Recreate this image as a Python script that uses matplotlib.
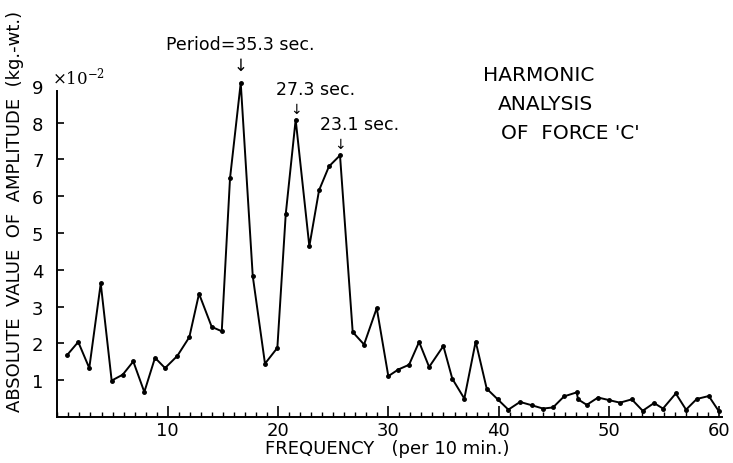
import matplotlib.pyplot as plt
from matplotlib.ticker import MultipleLocator

plt.rcParams['mathtext.fontset'] = 'dejavuserif'

# Harmonic analysis of force 'C' (values x 10^-2 kg.-wt.)
# frequencies (points sit slightly left of the integers near the peaks)
freq = [0.90, 1.89, 2.89, 3.93, 4.92, 5.92, 6.88, 7.88, 8.85, 9.76,
        10.87, 11.96, 12.84, 13.99, 14.90, 15.65, 16.62, 17.71, 18.82, 19.94,
        20.70, 21.60, 22.84, 23.72, 24.62, 25.62, 26.77, 27.80, 28.95, 30.00,
        30.90, 31.88, 32.79, 33.70, 34.99, 35.80, 36.89, 37.92, 38.92, 39.92,
        40.88, 41.94, 43.00, 44.02, 44.93, 45.93, 47.08, 47.20, 47.99, 49.01,
        50.00, 51.00, 52.07, 53.06, 54.09, 54.90, 56.06, 56.99, 57.96, 59.05,
        59.98]
amp = [1.69, 2.04, 1.33, 3.63, 0.99, 1.15, 1.51, 0.68, 1.61, 1.33,
       1.66, 2.17, 3.35, 2.45, 2.33, 6.49, 9.08, 3.83, 1.45, 1.88,
       5.51, 8.08, 4.64, 6.16, 6.81, 7.11, 2.31, 1.97, 2.96, 1.11,
       1.29, 1.42, 2.04, 1.36, 1.93, 1.04, 0.50, 2.05, 0.77, 0.48,
       0.20, 0.41, 0.32, 0.23, 0.26, 0.56, 0.67, 0.48, 0.33, 0.53,
       0.46, 0.39, 0.48, 0.17, 0.38, 0.23, 0.64, 0.20, 0.49, 0.57,
       0.15]

# peaks to label: (index into the series, label text)
peaks = [(16, 'Period=35.3 sec.'), (21, '27.3 sec.'), (25, '23.1 sec.')]

fig = plt.figure(figsize=(7.33, 4.64), dpi=100)
ax = fig.add_axes([0.0783, 0.0991, 0.9067, 0.7297])

ax.plot(freq, amp, color='black', lw=1.4, marker='o', ms=2.5)

ax.set_xlim(0, 60.25)
ax.set_ylim(0, 9.2)
ax.spines['top'].set_visible(False)
ax.spines['right'].set_visible(False)
ax.spines['left'].set_bounds(0, 8.85)
for s in ('left', 'bottom'):
    ax.spines[s].set_linewidth(1.4)

ax.set_xticks([10, 20, 30, 40, 50, 60])
ax.xaxis.set_minor_locator(MultipleLocator(1))
ax.set_yticks(range(1, 10))
ax.yaxis.get_major_ticks()[-1].tick1line.set_visible(False)
ax.tick_params(axis='x', which='major', direction='in', length=8, width=1.2,
               labelsize=13, pad=3)
ax.tick_params(axis='x', which='minor', direction='in', length=3.5, width=1.0)
ax.tick_params(axis='y', direction='in', length=5, width=1.2, labelsize=13, pad=10)

ax.set_xlabel('FREQUENCY   (per 10 min.)', fontsize=13)
ax.xaxis.set_label_coords(0.496, -0.065)
ax.set_ylabel('ABSOLUTE  VALUE  OF  AMPLITUDE  (kg.-wt.)', fontsize=13)
ax.yaxis.set_label_coords(-0.05, 0.61)

ax.text(-0.45, 9.25, r'$\times\mathit{10}^{-2}$', fontsize=12, va='center', ha='left')

for i, label in peaks:
    f, v = freq[i], amp[i]
    if i == 16:
        ax.text(f, v + 0.5, '\u2193', ha='center', va='center', fontsize=12)
        ax.text(f, v + 1.06, label, ha='center', va='center', fontsize=12.5)
    else:
        ax.text(f, v + 0.3, '\u2193', ha='center', va='center', fontsize=10)
        ax.text(f + 1.8, v + 0.84, label, ha='center', va='center', fontsize=12.5)

fig.text(0.659, 0.838, 'HARMONIC', fontsize=14.5, va='center')
fig.text(0.679, 0.774, 'ANALYSIS', fontsize=14.5, va='center')
fig.text(0.684, 0.713, "OF  FORCE 'C'", fontsize=14.5, va='center')

fig.savefig('out.png', dpi=100)
